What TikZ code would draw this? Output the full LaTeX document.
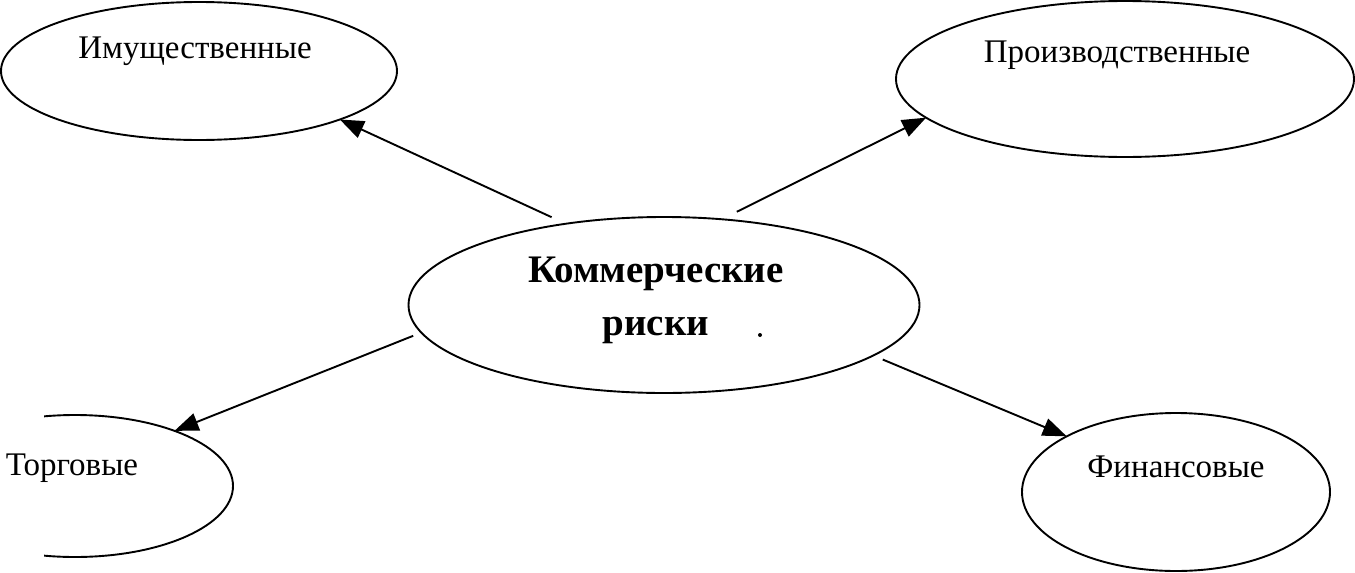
\documentclass[tikz,border=0pt]{standalone}
\usepackage{fontspec}
\setmainfont{Liberation Serif}
\usetikzlibrary{shapes.geometric,arrows.meta}

\tikzset{
  bubble/.style={draw,ellipse,line width=1.9pt,inner sep=0pt,outer sep=0pt},
  lbl/.style={font=\fontsize{33}{36}\selectfont,inner sep=0pt},
  arr/.style={line width=1.9pt,-{Triangle[length=24pt,width=18pt]}}
}

\begin{document}
\begin{tikzpicture}[x=1pt,y=-1pt]
        \useasboundingbox(0,0)rectangle(1355,573);
        \node[bubble,minimum width=511,minimum height=176,outer sep=9pt](comm)at(664,305){};
        \node[font=\fontsize{39}{53}\selectfont\bfseries,align=center,inner sep=0pt](commT)at(656,300){Коммерческие\\риски};
        \fill(760,335)circle(2pt);

        \node[bubble,minimum width=396,minimum height=138](prop)at(199,71){};
        \node[lbl](propT)at(195,51){Имущественные};

        \node[bubble,minimum width=458,minimum height=156](prod)at(1125,79){};
        \node[lbl](prodT)at(1117,55){Производственные};

        \begin{scope}
        \clip(44,380)rectangle(300,573);
        \node[bubble,minimum width=316,minimum height=142](trade)at(75,486){};
        \end{scope}
        \node[lbl](tradeT)at(72,468){Торговые};

        \node[bubble,minimum width=308,minimum height=158](fin)at(1176,492){};
        \node[lbl](finT)at(1176,467){Финансовые};

        \draw[arr](comm.142)--(prop.-19);
        \draw[arr](comm.52)--(prod.191);
        \draw[arr](comm.187)--(trade.29);
        \draw[arr](comm.-14)--(fin.153);
    \end{tikzpicture}
\end{document}
